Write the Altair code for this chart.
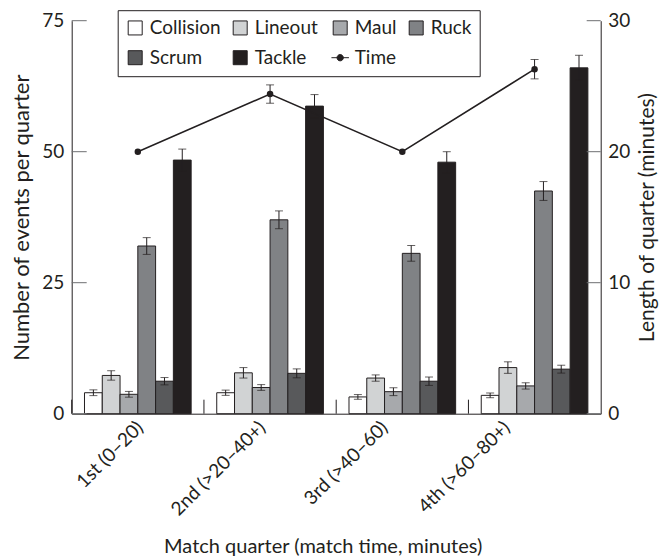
import altair as alt
import pandas as pd

quarters = ["1st (0–20)", "2nd (>20–40+)", "3rd (>40–60)", "4th (>60–80+)"]
event_types = ["Collision", "Lineout", "Maul", "Ruck", "Scrum", "Tackle"]
bar_colors = ["#ffffff", "#d1d3d4", "#a7a9ac", "#808285", "#58595b", "#231f20"]

collision = [4.0, 4.0, 3.2, 3.5]
collision_err = [0.55, 0.5, 0.45, 0.45]
lineout = [7.3, 7.8, 6.8, 8.8]
lineout_err = [0.9, 1.0, 0.6, 1.1]
maul = [3.7, 5.0, 4.2, 5.3]
maul_err = [0.55, 0.55, 0.75, 0.6]
ruck = [32.0, 37.0, 30.6, 42.5]
ruck_err = [1.6, 1.7, 1.5, 1.8]
scrum = [6.2, 7.7, 6.2, 8.5]
scrum_err = [0.7, 0.85, 0.8, 0.75]
tackle = [48.4, 58.7, 48.0, 66.0]
tackle_err = [2.1, 2.2, 2.0, 2.4]

time_minutes = [20.0, 24.4, 20.0, 26.3]
time_err = [0.0, 0.7, 0.0, 0.74]

left_ticks = [0, 25, 50, 75]
right_ticks = [0, 10, 20, 30]

series_vals = [collision, lineout, maul, ruck, scrum, tackle]
series_errs = [collision_err, lineout_err, maul_err, ruck_err, scrum_err, tackle_err]
rows = []
for name, vals, errs in zip(event_types, series_vals, series_errs):
    for q, v, e in zip(quarters, vals, errs):
        rows.append({"quarter": q, "type": name, "value": v, "err": e})
df = pd.DataFrame(rows)
tdf = pd.DataFrame({"quarter": quarters, "time": time_minutes, "err": time_err,
                    "series": ["Time"] * 4})

W, H = 529, 393
INK = "#231f20"
FONT = "Lato"
time_symbol = "M-1.25,0L1.25,0M-0.45,0A0.45,0.45,0,1,1,0.45,0A0.45,0.45,0,1,1,-0.45,0Z"
legend_domain = event_types + ["Time"]

quarter_list = "[" + ",".join("'" + q + "'" for q in quarters) + "]"
x_axis = alt.Axis(title="Match quarter (match time, minutes)", labelAngle=-45,
                  ticks=False, labelPadding=4, domainColor=INK, titlePadding=17,
                  titleX=251, labelFontSize=19, titleFontSize=20,
                  labelOffset=alt.ExprRef("-4 - 10 * indexof(" + quarter_list + ", datum.value)"))
x_scale = alt.Scale(domain=quarters, paddingInner=0, paddingOuter=0)


def xenc(**kw):
    return alt.X("quarter:N", sort=quarters, scale=x_scale, axis=x_axis, **kw)


xo = alt.XOffset("type:N", sort=event_types,
                 scale=alt.Scale(domain=event_types, paddingInner=0, paddingOuter=0.72))
yl_scale = alt.Scale(domain=[0, 75], nice=False, zero=True)
yl_axis = alt.Axis(title="Number of events per quarter", values=left_ticks, ticks=False,
                   labelPadding=8, domainColor=INK, grid=False, titlePadding=8,
                   titleFontSize=22)
yr_scale = alt.Scale(domain=[0, 30], nice=False, zero=True)
yr_axis = alt.Axis(title="Length of quarter (minutes)", orient="right", values=right_ticks,
                   ticks=False, labelPadding=7, domainColor=INK, grid=False,
                   titleAngle=-90, titleBaseline="top", titlePadding=7)

legend_fill_scale = alt.Scale(domain=legend_domain, range=bar_colors + [INK])
shape_scale = alt.Scale(domain=legend_domain, range=["square"] * 6 + [time_symbol])

legend = alt.Legend(title=None, orient="none", legendX=46, legendY=-10.5,
                    direction="horizontal", columns=4, symbolSize=196,
                    labelFont=FONT, labelFontSize=19, labelColor=INK,
                    strokeColor=INK, fillColor="white", padding=8, rowPadding=10,
                    columnPadding=10, labelOffset=5, symbolOpacity=1,
                    symbolStrokeWidth=1, labelLimit=0)

bars = alt.Chart(df).mark_bar(stroke=INK, strokeWidth=1).encode(
    x=xenc(), xOffset=xo,
    y=alt.Y("value:Q", scale=yl_scale, axis=yl_axis),
    color=alt.Color("type:N", scale=alt.Scale(domain=event_types, range=bar_colors),
                    legend=None),
)
err_base = alt.Chart(df).transform_calculate(
    lo="datum.value - datum.err", hi="datum.value + datum.err")
err_rules = err_base.mark_rule(color=INK, strokeWidth=1).encode(
    x=xenc(), xOffset=xo,
    y=alt.Y("lo:Q", scale=yl_scale, axis=yl_axis), y2="hi:Q")
cap_hi = err_base.mark_tick(color=INK, thickness=1, size=8).encode(
    x=xenc(), xOffset=xo, y=alt.Y("hi:Q", scale=yl_scale, axis=yl_axis))
cap_lo = err_base.mark_tick(color=INK, thickness=1, size=8).encode(
    x=xenc(), xOffset=xo, y=alt.Y("lo:Q", scale=yl_scale, axis=yl_axis))
xticks = alt.Chart(pd.DataFrame({"quarter": quarters})).mark_rule(
    color=INK, strokeWidth=1).encode(
    x=xenc(bandPosition=0), y=alt.value(H), y2=alt.value(H - 14))
lticks = alt.Chart(pd.DataFrame({"t": left_ticks})).mark_rule(
    color="#6d6e71", strokeWidth=1).encode(
    y=alt.Y("t:Q", scale=yl_scale, axis=yl_axis), x=alt.value(0), x2=alt.value(15))

left = alt.layer(bars, err_rules, cap_hi, cap_lo, xticks, lticks)

ty = alt.Y("time:Q", scale=yr_scale, axis=yr_axis)
tline = alt.Chart(tdf).mark_line(color=INK, strokeWidth=1.5).encode(x=xenc(), y=ty)
tpts = alt.Chart(tdf).mark_point(filled=True, color=INK, size=42, opacity=1).encode(
    x=xenc(), y=ty)
terr_base = alt.Chart(tdf).transform_filter("datum.err > 0").transform_calculate(
    lo="datum.time - datum.err", hi="datum.time + datum.err")
terr = terr_base.mark_rule(color=INK, strokeWidth=1).encode(
    x=xenc(), y=alt.Y("lo:Q", scale=yr_scale, axis=yr_axis), y2="hi:Q")
tcap_hi = terr_base.mark_tick(color=INK, thickness=1, size=8).encode(
    x=xenc(), y=alt.Y("hi:Q", scale=yr_scale, axis=yr_axis))
tcap_lo = terr_base.mark_tick(color=INK, thickness=1, size=8).encode(
    x=xenc(), y=alt.Y("lo:Q", scale=yr_scale, axis=yr_axis))
rticks = alt.Chart(pd.DataFrame({"t": right_ticks})).mark_rule(
    color="#6d6e71", strokeWidth=1).encode(
    y=alt.Y("t:Q", scale=yr_scale, axis=yr_axis), x=alt.value(W), x2=alt.value(W - 14))

# legend-only layer (no marks drawn): gives the combined legend with the line-and-dot symbol
legend_layer = alt.Chart(tdf).transform_filter("false").mark_point(
    filled=True, stroke=INK, strokeWidth=1, opacity=1).encode(
    x=xenc(), y=ty,
    fill=alt.Fill("series:N", scale=legend_fill_scale, legend=legend),
    shape=alt.Shape("series:N", scale=shape_scale, legend=legend),
)

right = alt.layer(tline, terr, tcap_hi, tcap_lo, tpts, rticks, legend_layer)

chart = alt.layer(left, right).resolve_scale(y="independent").properties(
    width=W, height=H,
    autosize=alt.AutoSizeParams(type="none"),
    padding={"left": 63.7, "top": 12.7, "right": 59, "bottom": 145},
).configure_view(stroke=None).configure_axis(
    labelFont=FONT, titleFont=FONT, labelFontSize=19, titleFontSize=21,
    titleFontWeight="normal", labelColor=INK, titleColor=INK,
)

chart.save("out.html", embed_options={"renderer": "svg", "actions": False})
